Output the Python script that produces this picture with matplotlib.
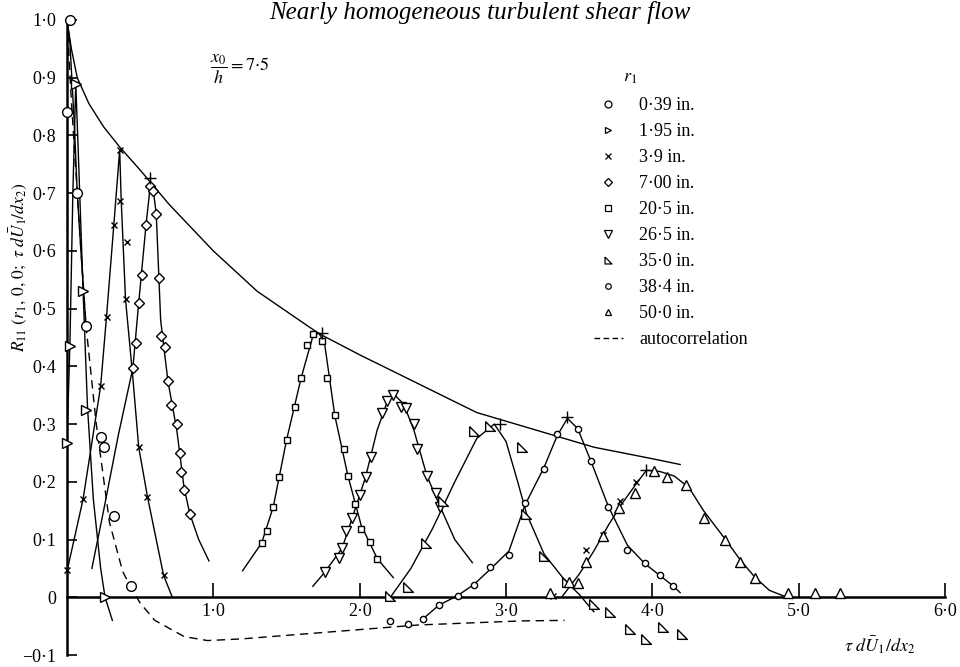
import matplotlib
matplotlib.use("Agg")
import matplotlib.pyplot as plt
from matplotlib.lines import Line2D

plt.rcParams['font.family'] = ['Liberation Serif', 'DejaVu Serif']
plt.rcParams['mathtext.fontset'] = 'stix'

# ---- data (tau dU/dx2, R11) ----
env_t = [0, 0.03, 0.07, 0.15, 0.25, 0.36, 0.5, 0.7, 1.0, 1.3, 1.72, 2.0, 2.4, 2.8, 3.2, 3.6, 4.0, 4.19]
env_r = [1.0, 0.95, 0.90, 0.855, 0.815, 0.78, 0.74, 0.68, 0.60, 0.53, 0.457, 0.42, 0.37, 0.32, 0.29, 0.26, 0.24, 0.23]

auto_t = [0, 0.03, 0.07, 0.13, 0.2, 0.29, 0.38, 0.44, 0.5, 0.6, 0.8, 0.96, 1.2, 1.6, 2.0, 2.4, 2.8, 3.1, 3.4]
auto_r = [1.0, 0.86, 0.70, 0.47, 0.30, 0.13, 0.045, 0.015, -0.01, -0.04, -0.068, -0.075, -0.072, -0.064, -0.056, -0.048, -0.044, -0.041, -0.04]

p039_t = [0.02, 0.0, 0.07, 0.13, 0.23, 0.25, 0.32, 0.44]
p039_r = [1.0, 0.84, 0.70, 0.47, 0.277, 0.26, 0.14, 0.02]
c039_t = [0.0, 0.02, 0.05, 0.07, 0.10, 0.13]
c039_r = [1.0, 0.96, 0.82, 0.70, 0.58, 0.47]

p195_t = [0.06, 0.11, 0.02, 0.13, 0.0, 0.26]
p195_r = [0.89, 0.53, 0.436, 0.325, 0.268, 0.0]
c195_t = [0.0, 0.02, 0.04, 0.06, 0.08, 0.11, 0.14, 0.18, 0.23, 0.26, 0.31]
c195_r = [0.27, 0.44, 0.70, 0.89, 0.75, 0.53, 0.33, 0.17, 0.05, 0.0, -0.04]

p39_t = [0.0, 0.11, 0.23, 0.27, 0.32, 0.36, 0.36, 0.41, 0.40, 0.49, 0.55, 0.66]
p39_r = [0.048, 0.17, 0.366, 0.486, 0.645, 0.775, 0.687, 0.615, 0.516, 0.26, 0.174, 0.038]
c39_t = [0.0, 0.11, 0.23, 0.27, 0.32, 0.36, 0.37, 0.40, 0.45, 0.49, 0.55, 0.66, 0.72]
c39_r = [0.045, 0.17, 0.366, 0.486, 0.645, 0.775, 0.69, 0.516, 0.38, 0.26, 0.174, 0.038, 0.0]

p700_t = [0.45, 0.47, 0.49, 0.51, 0.54, 0.57, 0.59, 0.61, 0.63, 0.64, 0.67, 0.69, 0.71, 0.75, 0.77, 0.78, 0.80, 0.84]
p700_r = [0.397, 0.44, 0.51, 0.558, 0.645, 0.713, 0.704, 0.664, 0.553, 0.453, 0.433, 0.374, 0.333, 0.30, 0.25, 0.217, 0.185, 0.144]
c700_t = [0.17, 0.25, 0.35, 0.45, 0.49, 0.54, 0.57, 0.59, 0.61, 0.64, 0.69, 0.75, 0.80, 0.84, 0.90, 0.97]
c700_r = [0.05, 0.15, 0.28, 0.397, 0.51, 0.645, 0.715, 0.704, 0.664, 0.48, 0.374, 0.29, 0.19, 0.144, 0.10, 0.063]

p205_t = [1.33, 1.37, 1.41, 1.45, 1.50, 1.56, 1.60, 1.64, 1.68, 1.74, 1.78, 1.83, 1.89, 1.92, 1.97, 2.01, 2.07, 2.12]
p205_r = [0.094, 0.115, 0.157, 0.208, 0.272, 0.33, 0.38, 0.437, 0.456, 0.444, 0.38, 0.315, 0.257, 0.21, 0.161, 0.118, 0.096, 0.067]
c205_t = [1.20, 1.33, 1.41, 1.50, 1.60, 1.68, 1.72, 1.76, 1.83, 1.92, 2.01, 2.12, 2.23]
c205_r = [0.046, 0.094, 0.157, 0.272, 0.38, 0.452, 0.458, 0.44, 0.315, 0.21, 0.125, 0.067, 0.034]

p265_t = [1.76, 1.86, 1.88, 1.91, 1.95, 2.0, 2.04, 2.08, 2.15, 2.19, 2.23, 2.28, 2.32, 2.37, 2.39, 2.46, 2.52, 2.55]
p265_r = [0.043, 0.068, 0.085, 0.115, 0.138, 0.178, 0.208, 0.243, 0.32, 0.34, 0.35, 0.33, 0.328, 0.30, 0.256, 0.21, 0.18, 0.157]
c265_t = [1.68, 1.76, 1.88, 1.95, 2.04, 2.12, 2.19, 2.24, 2.30, 2.37, 2.46, 2.55, 2.65, 2.77]
c265_r = [0.019, 0.043, 0.085, 0.138, 0.208, 0.29, 0.34, 0.35, 0.335, 0.29, 0.21, 0.157, 0.10, 0.06]

p350_t = [2.21, 2.33, 2.45, 2.57, 2.78, 2.89, 3.11, 3.14, 3.26, 3.42, 3.60, 3.71, 3.85, 3.96, 4.07, 4.20]
p350_r = [0.003, 0.017, 0.094, 0.166, 0.288, 0.297, 0.26, 0.145, 0.072, 0.026, -0.012, -0.026, -0.055, -0.072, -0.051, -0.063]
c350_t = [2.21, 2.35, 2.50, 2.65, 2.80, 2.92, 3.00, 3.08, 3.14, 3.26, 3.40, 3.50, 3.60]
c350_r = [0.0, 0.05, 0.12, 0.20, 0.275, 0.30, 0.27, 0.20, 0.145, 0.075, 0.03, 0.005, -0.025]

p384_t = [2.21, 2.33, 2.43, 2.54, 2.67, 2.78, 2.89, 3.02, 3.13, 3.26, 3.35, 3.49, 3.58, 3.70, 3.83, 3.95, 4.05, 4.14]
p384_r = [-0.041, -0.046, -0.038, -0.014, 0.003, 0.022, 0.053, 0.074, 0.164, 0.222, 0.282, 0.292, 0.236, 0.157, 0.082, 0.06, 0.039, 0.02]
c384_t = [2.43, 2.54, 2.67, 2.78, 2.89, 3.02, 3.13, 3.26, 3.35, 3.42, 3.49, 3.58, 3.70, 3.83, 3.95, 4.05, 4.14, 4.19]
c384_r = [-0.038, -0.014, 0.003, 0.022, 0.048, 0.08, 0.16, 0.225, 0.28, 0.31, 0.292, 0.236, 0.157, 0.09, 0.058, 0.038, 0.02, 0.008]

p500_t = [3.30, 3.43, 3.49, 3.55, 3.66, 3.77, 3.88, 4.01, 4.10, 4.23, 4.35, 4.50, 4.60, 4.70, 4.93, 5.11, 5.28]
p500_r = [0.007, 0.027, 0.024, 0.061, 0.106, 0.154, 0.18, 0.219, 0.209, 0.195, 0.138, 0.10, 0.061, 0.034, 0.007, 0.007, 0.007]
c500_t = [3.38, 3.50, 3.60, 3.70, 3.80, 3.90, 3.96, 4.05, 4.15, 4.25, 4.35, 4.50, 4.60, 4.70, 4.80, 4.92]
c500_r = [0.0, 0.04, 0.08, 0.125, 0.165, 0.20, 0.22, 0.218, 0.21, 0.19, 0.15, 0.10, 0.065, 0.035, 0.012, 0.0]

# extra crosses near the 50.0 in. curve and "+" peak marks
xtra_t = [3.32, 3.42, 3.55, 3.66, 3.78, 3.89]
xtra_r = [0.003, 0.026, 0.082, 0.108, 0.166, 0.20]
peak_t = [0.57, 1.74, 2.96, 3.42, 3.96]
peak_r = [0.727, 0.458, 0.30, 0.313, 0.22]

labels = ['0·39 in.', '1·95 in.', '3·9 in.', '7·00 in.', '20·5 in.',
          '26·5 in.', '35·0 in.', '38·4 in.', '50·0 in.']

tri_corner = [(-1, 1), (-1, -1), (1, -1), (-1, 1)]

fig = plt.figure(figsize=(9.6, 6.67), dpi=100)
ax = fig.add_axes([67 / 960, 12 / 667, 878 / 960, 635 / 667])

lw = 1.0
ax.plot(env_t, env_r, color='black', lw=lw)
ax.plot(auto_t, auto_r, color='black', lw=lw, dashes=(6, 4))
for ct, cr in [(c039_t, c039_r), (c195_t, c195_r), (c39_t, c39_r), (c700_t, c700_r),
               (c205_t, c205_r), (c265_t, c265_r), (c350_t, c350_r), (c384_t, c384_r),
               (c500_t, c500_r)]:
    ax.plot(ct, cr, color='black', lw=lw)

mk = dict(ls='none', mfc='white', mec='black', mew=1.0, clip_on=False, zorder=3)
ax.plot(p039_t, p039_r, marker='o', ms=7, **mk)
ax.plot(p195_t, p195_r, marker='>', ms=7, **mk)
ax.plot(p39_t, p39_r, marker='x', ms=5, **mk)
ax.plot(xtra_t, xtra_r, marker='x', ms=5, **mk)
ax.plot(p700_t, p700_r, marker='D', ms=5, **mk)
ax.plot(p205_t, p205_r, marker='s', ms=5, **mk)
ax.plot(p265_t, p265_r, marker='v', ms=7, **mk)
ax.plot(p350_t, p350_r, marker=tri_corner, ms=7, **mk)
ax.plot(p384_t, p384_r, marker='o', ms=4.5, **mk)
ax.plot(p500_t, p500_r, marker='^', ms=7, **mk)
ax.plot(peak_t, peak_r, marker='+', ms=8, **mk)

# axes styling
ax.set_xlim(0, 6.0)
ax.set_ylim(-0.1, 1.0)
ax.spines['top'].set_visible(False)
ax.spines['right'].set_visible(False)
ax.spines['bottom'].set_position(('data', 0))
ax.spines['bottom'].set_bounds(0, 6.0)
ax.spines['left'].set_bounds(-0.1, 1.0)
ax.spines['left'].set_linewidth(1.8)
ax.spines['bottom'].set_linewidth(1.8)

yt = [-0.1, 0, 0.1, 0.2, 0.3, 0.4, 0.5, 0.6, 0.7, 0.8, 0.9, 1.0]
ytl = ['\u22120·1', '0', '0·1', '0·2', '0·3', '0·4', '0·5', '0·6', '0·7', '0·8', '0·9', '1·0']
ax.set_yticks(yt)
ax.set_yticklabels(ytl)
xt = [1, 2, 3, 4, 5, 6]
ax.set_xticks(xt)
ax.set_xticklabels(['1·0', '2·0', '3·0', '4·0', '5·0', '6·0'])
ax.tick_params(axis='y', direction='in', length=7, width=1.2, pad=8, labelsize=13)
ax.tick_params(axis='x', direction='in', length=10, width=1.2, pad=4, labelsize=13)

ax.set_ylabel(r'$R_{11}\ (r_1,\,0,\,0;\ \tau\ d\bar{U}_1/dx_2)$', fontsize=12.5)
ax.yaxis.set_label_coords(-0.043, 0.61)
ax.text(5.55, -0.083, r'$\tau\ d\bar{U}_1/dx_2$', fontsize=13, ha='center', va='center')
ax.text(0.98, 0.915, r'$\dfrac{x_0}{h} = 7{\cdot}5$', fontsize=13, ha='left', va='center')

fig.text(0.5, 1 - 19 / 667, 'Nearly homogeneous turbulent shear flow',
         style='italic', fontsize=18, ha='center', va='baseline')

# legend
lg_kw = dict(ls='none', mfc='white', mec='black', mew=0.9)
handles = [
    Line2D([], [], marker='o', ms=5, **lg_kw),
    Line2D([], [], marker='>', ms=5, **lg_kw),
    Line2D([], [], marker='x', ms=4, **lg_kw),
    Line2D([], [], marker='D', ms=4, **lg_kw),
    Line2D([], [], marker='s', ms=4, **lg_kw),
    Line2D([], [], marker='v', ms=5.5, **lg_kw),
    Line2D([], [], marker=tri_corner, ms=5, **lg_kw),
    Line2D([], [], marker='o', ms=4, **lg_kw),
    Line2D([], [], marker='^', ms=5, **lg_kw),
    Line2D([], [], color='black', lw=1.0, dashes=(4, 2.5)),
]
ax.legend(handles, labels + ['autocorrelation'], loc='upper left',
          bbox_to_anchor=(594 / 960, 1 - 97 / 667), bbox_transform=fig.transFigure,
          frameon=False, fontsize=13, borderpad=0, borderaxespad=0, handlelength=1.6,
          handletextpad=0.9, labelspacing=0.5)
fig.text(630 / 960, 1 - 77 / 667, r'$r_1$', fontsize=13, ha='center', va='center')

fig.savefig('out.png', dpi=100)
